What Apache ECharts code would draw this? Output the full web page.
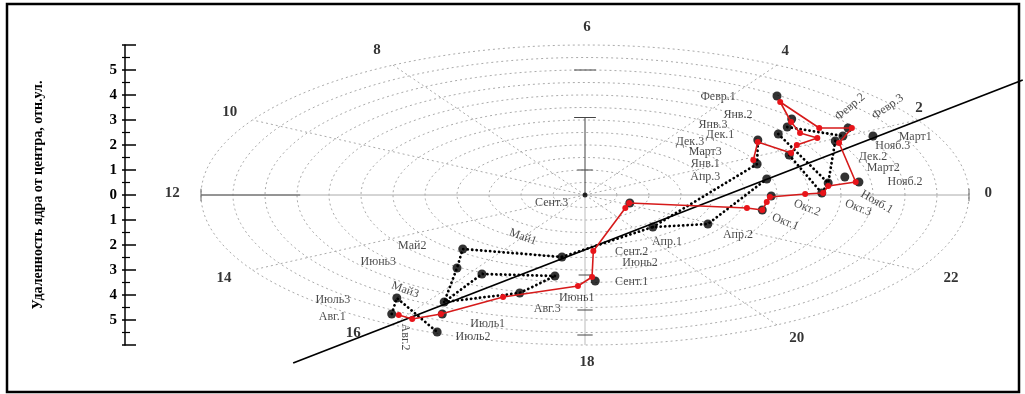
<!DOCTYPE html>
<html><head><meta charset="utf-8">
<script src="https://cdn.jsdelivr.net/npm/echarts@6/dist/echarts.min.js"></script>
<style>html,body{margin:0;padding:0;background:#fff}#c{width:1025px;height:394px}</style>
</head><body><div id="c"></div>
<script>
// ---------- DATA (units: horizontal / vertical distance from centre) ----------
const hourLabels   = ['0','2','4','6','8','10','12','14','16','18','20','22'];
const hourLabelPos = [[6.30,0.08],[5.22,3.48],[3.13,5.76],[0.03,6.72],[-3.25,5.80],[-5.55,3.32],
                      [-6.45,0.08],[-5.64,-3.32],[-3.62,-5.52],[0.03,-6.68],[3.31,-5.72],[5.72,-3.32]];
const ringRadii  = [0.5,1,1.5,2,2.5,3,3.5,4,4.5,5,5.5,6];
const spokeHours = [2,4,8,10,14,16,20,22];
const trendLine  = [[-4.56,-6.72],[6.84,4.60]];

const blackPoints = [[3.00,3.96],[3.23,3.04],[3.16,2.72],[3.02,2.44],[2.70,2.20],[3.19,1.60],[2.69,1.24],
  [2.84,0.64],[4.11,2.68],[4.03,2.36],[4.50,2.36],[3.91,2.16],[4.06,0.72],[4.28,0.52],[3.80,0.48],
  [3.70,0.08],[2.91,-0.04],[0.70,-0.32],[1.06,-1.28],[1.92,-1.16],[-1.91,-2.16],[-0.36,-2.48],
  [-2.00,-2.92],[-1.61,-3.16],[-0.47,-3.24],[0.16,-3.44],[-1.02,-3.92],[-2.20,-4.28],[-2.94,-4.12],
  [-2.23,-4.76],[-3.02,-4.76],[-2.31,-5.48],[2.77,-0.60]];

const redPath = [[-2.91,-4.80],[-2.70,-4.96],[-2.25,-4.76],[-1.28,-4.08],[-0.11,-3.64],[0.11,-3.28],
  [0.13,-2.24],[0.63,-0.52],[0.69,-0.32],[2.53,-0.52],[2.77,-0.60],[2.84,-0.28],[2.89,-0.08],
  [3.44,0.04],[3.72,0.08],[3.80,0.36],[4.23,0.52],[3.97,2.08],[4.17,2.68],[3.66,2.68],[3.05,3.72],
  [3.22,2.92],[3.36,2.48],[3.63,2.28],[3.31,2.00],[3.22,1.68],[2.70,2.12],[2.63,1.40]];

const dotted1 = [[-3.02,-4.76],[-2.94,-4.12],[-2.31,-5.48]];
const dotted2 = [[-0.36,-2.48],[-1.91,-2.16],[-2.00,-2.92],[-2.20,-4.28]];
const dotted3 = [[-0.47,-3.24],[-1.61,-3.16],[-2.20,-4.28]];
const dotted4 = [[-2.20,-4.28],[-1.02,-3.92],[-0.47,-3.24]];
const dotted5 = [[-0.36,-2.48],[1.06,-1.28],[1.92,-1.16],[2.84,0.64]];
const dotted6 = [[1.06,-1.28],[2.69,1.24],[2.70,2.20]];
const dotted7 = [[3.02,2.44],[3.80,0.48]];
const dotted8 = [[3.16,2.72],[4.03,2.36]];
const dotted9 = [[3.91,2.16],[3.80,0.48],[3.70,0.08]];
const dotted10 = [[3.19,1.60],[3.70,0.08]];

const monthNames = ['Февр.1','Янв.2','Янв.3','Дек.1','Дек.3','Март3','Янв.1','Апр.3','Февр.2','Февр.3',
  'Март1','Нояб.3','Дек.2','Март2','Нояб.2','Нояб.1','Окт.2','Окт.3','Окт.1','Апр.2','Сент.3','Май1',
  'Апр.1','Сент.2','Июнь2','Сент.1','Май2','Июнь3','Май3','Июнь1','Авг.3','Июль1','Июль2','Авг.2',
  'Июль3','Авг.1'];
const monthPos = [[2.08,3.92],[2.39,3.20],[2.00,2.80],[2.11,2.40],[1.64,2.12],[1.88,1.72],[1.88,1.24],
  [1.88,0.72],[4.14,3.52],[4.73,3.52],[5.16,2.32],[4.81,1.96],[4.50,1.52],[4.66,1.08],[5.00,0.52],
  [4.56,-0.28],[3.47,-0.52],[4.27,-0.52],[3.13,-1.08],[2.39,-1.60],[-0.52,-0.32],[-0.97,-1.68],
  [1.28,-1.88],[0.73,-2.28],[0.86,-2.72],[0.73,-3.48],[-2.70,-2.04],[-3.23,-2.68],[-2.81,-3.80],
  [-0.13,-4.12],[-0.59,-4.56],[-1.52,-5.16],[-1.75,-5.68],[-2.81,-5.68],[-3.94,-4.20],[-3.95,-4.88]];
const monthRot = [0,0,0,0,0,0,0,0,40,35,0,0,0,0,0,-30,-22,-22,-22,0,0,-20,0,0,0,0,0,0,-20,0,0,0,0,-90,0,0];

const yAxisTitle = 'Удаленность ядра от центра, отн.ул.';

// ---------- BUILD ----------
const SERIF = '"Liberation Serif","DejaVu Serif",serif';
function ring(r){const p=[];for(let a=0;a<=360;a+=2){const t=a*Math.PI/180;p.push([r*Math.cos(t),r*Math.sin(t)]);}return p;}
const base = {type:'line',symbol:'none',showSymbol:false,silent:true,clip:false,animation:false};
const series = [];
ringRadii.forEach(r=>series.push(Object.assign({},base,{data:ring(r),z:1,
  lineStyle:{color:'#a0a0a0',width:0.9,type:[2,3]}})));
spokeHours.forEach(h=>{const t=h*15*Math.PI/180;series.push(Object.assign({},base,{z:1,
  data:[[0,0],[6*Math.cos(t),6*Math.sin(t)]],lineStyle:{color:'#a0a0a0',width:0.9,type:[2,3]}}));});
// main cross axes
series.push(Object.assign({},base,{z:2,data:[[-6,0],[6,0]],lineStyle:{color:'#aaaaaa',width:1}}));
series.push(Object.assign({},base,{z:2,data:[[-6,0],[-4.45,0]],lineStyle:{color:'#555',width:1}}));
series.push(Object.assign({},base,{z:2,data:[[0,0],[0,-6]],lineStyle:{color:'#bbbbbb',width:1}}));
series.push(Object.assign({},base,{z:2,data:[[0,0],[0,3.1]],lineStyle:{color:'#444',width:1}}));
[[3.1,0.17],[1,0.12],[5,0.17],[-3.2,0.1],[-4.6,0.12],[-5.6,0.12]].forEach(c=>
  series.push(Object.assign({},base,{z:2,data:[[-c[1],c[0]],[c[1],c[0]]],lineStyle:{color:'#444',width:1}})));
[[-6,0.25],[6,0.25]].forEach(c=>series.push(Object.assign({},base,{z:2,data:[[c[0],-c[1]],[c[0],c[1]]],lineStyle:{color:'#666',width:1}})));
// trend line
series.push(Object.assign({},base,{z:3,data:trendLine,lineStyle:{color:'#000',width:1.8}}));
// dotted black paths
[dotted1,dotted2,dotted3,dotted4,dotted5,dotted6,dotted7,dotted8,dotted9,dotted10].forEach(d=>
  series.push(Object.assign({},base,{z:4,data:d,lineStyle:{color:'#000',width:2.8,type:[0.1,4.4],cap:'round'}})));
// black points
series.push({type:'scatter',data:blackPoints,symbol:'circle',symbolSize:9,clip:false,z:5,animation:false,
  itemStyle:{color:'#000'}});
// red path
series.push({type:'line',data:redPath,symbol:'circle',symbolSize:6,showSymbol:true,clip:false,z:6,animation:false,
  lineStyle:{color:'#d61a1a',width:1.6},itemStyle:{color:'#e8141a',borderWidth:0}});
// centre dot
series.push({type:'scatter',data:[[0,0]],symbolSize:5,itemStyle:{color:'#000'},z:6,animation:false});
// month labels
series.push({type:'scatter',clip:false,z:8,animation:false,symbolSize:1,itemStyle:{color:'rgba(0,0,0,0)'},
  data:monthNames.map((n,i)=>({name:n,value:monthPos[i],label:{rotate:monthRot[i]}})),
  label:{show:true,position:'inside',formatter:'{b}',fontFamily:SERIF,fontSize:12,color:'#1a1a1a'}});
// hour labels
series.push({type:'scatter',clip:false,z:8,animation:false,symbolSize:1,itemStyle:{color:'rgba(0,0,0,0)'},
  data:hourLabels.map((n,i)=>({name:n,value:hourLabelPos[i]})),
  label:{show:true,position:'inside',formatter:'{b}',fontFamily:SERIF,fontWeight:'bold',fontSize:15,color:'#000'}});

const chart = echarts.init(document.getElementById('c'),null,{renderer:'canvas'});
chart.setOption({
  animation:false,
  backgroundColor:'#fff',
  grid:{left:125,right:0,top:45,bottom:49,containLabel:false,outerBoundsMode:'none'},
  xAxis:{type:'value',min:-7.1875,max:6.875,show:false},
  yAxis:[{type:'value',min:-6,max:6,interval:1,position:'left',
    axisLine:{show:true,onZero:false,lineStyle:{color:'#000',width:1.5}},
    axisTick:{show:true,inside:true,length:11,lineStyle:{color:'#000',width:1.5}},
    minorTick:{show:true,splitNumber:2,length:5,lineStyle:{color:'#000',width:1.2}},
    splitLine:{show:false},minorSplitLine:{show:false},
    axisLabel:{formatter:v=>Math.abs(v)===6?'':String(Math.abs(v)),fontFamily:SERIF,fontWeight:'bold',
      fontSize:15,color:'#000',margin:8},
    name:yAxisTitle,nameLocation:'middle',nameGap:80,nameRotate:90,
    nameTextStyle:{fontFamily:SERIF,fontWeight:'bold',fontSize:14,color:'#000'}},
   {type:'value',min:-6,max:6,interval:1,position:'left',offset:0,
    axisLine:{show:false,onZero:false},
    axisTick:{show:true,inside:false,length:3,lineStyle:{color:'#000',width:1.5}},
    minorTick:{show:true,splitNumber:2,length:3,lineStyle:{color:'#000',width:1.2}},
    splitLine:{show:false},minorSplitLine:{show:false},axisLabel:{show:false}}],
  graphic:[{type:'rect',shape:{x:7,y:4,width:1012,height:388},style:{fill:'none',stroke:'#000',lineWidth:2.5},silent:true}],
  series:series
});
</script></body></html>
